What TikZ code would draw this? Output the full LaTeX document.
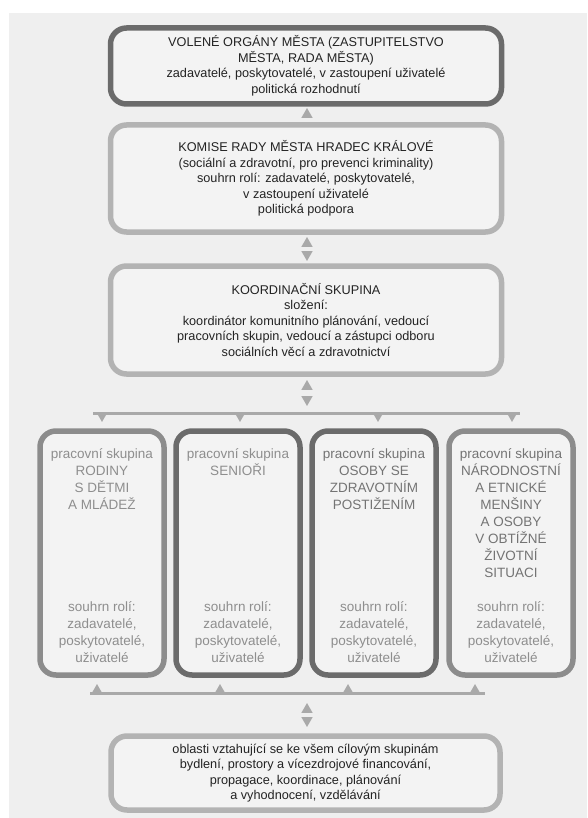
\documentclass[tikz,border=0pt]{standalone}
\usepackage{fontspec}
\setmainfont{Liberation Sans}
\usetikzlibrary{shapes.geometric}

\definecolor{bggray}{HTML}{EFEFEF}
\definecolor{boxfill}{HTML}{F3F3F3}
\definecolor{darkline}{HTML}{6B6B6B}
\definecolor{midline}{HTML}{8C8C8C}
\definecolor{lightline}{HTML}{B3B3B3}
\definecolor{connline}{HTML}{A9A9A9}
\definecolor{darktext}{HTML}{232323}
\definecolor{lowtext}{HTML}{8E8E8E}
\definecolor{midtext}{HTML}{747474}

\tikzset{
  box/.style={draw, rounded corners=16pt, line width=5.5pt, fill=boxfill,
    align=center, inner sep=0pt, text=darktext,
    font=\fontsize{12.7}{15.5}\selectfont},
  groupbox/.style={draw, rounded corners=16pt, line width=5.5pt, fill=boxfill,
    minimum width=124pt, minimum height=244pt},
  grouptext/.style={align=center, inner sep=0pt, text=lowtext,
    font=\fontsize{13.5}{17}\selectfont},
  tri/.style={fill=connline, regular polygon, regular polygon sides=3,
    minimum size=13pt, inner sep=0pt},
  triup/.style={tri, anchor=south},
  tridown/.style={tri, shape border rotate=180, anchor=north},
  conn/.style={draw=connline, line width=3pt}
}

\begin{document}
\begin{tikzpicture}[x=1pt, y=-1pt]

  \useasboundingbox (0,0) rectangle (587,818);
  \fill[bggray] (9,13) rectangle (587,818);

  % upper boxes
  \node[box, draw=darkline, minimum width=391pt, minimum height=76pt] (volene) at (306,66)
    {VOLENÉ ORGÁNY MĚSTA (ZASTUPITELSTVO\\ MĚSTA, RADA MĚSTA)\\
     zadavatelé, poskytovatelé, v zastoupení uživatelé\\ politická rozhodnutí};
  \node[box, draw=lightline, minimum width=391pt, minimum height=107pt] (komise) at (306,178.5)
    {KOMISE RADY MĚSTA HRADEC KRÁLOVÉ\\
     (sociální a zdravotní, pro prevenci kriminality)\\
     souhrn rolí: zadavatelé, poskytovatelé,\\ v zastoupení uživatelé\\ politická podpora};
  \node[box, draw=lightline, minimum width=391pt, minimum height=108pt] (koord) at (306,320)
    {KOORDINAČNÍ SKUPINA\\ složení:\\
     koordinátor komunitního plánování, vedoucí\\
     pracovních skupin, vedoucí a zástupci odboru\\
     sociálních věcí a zdravotnictví};

  % working groups
  \node[groupbox, draw=midline]  (rodiny)   at (102,553) {};
  \node[groupbox, draw=darkline] (seniori)  at (238,553) {};
  \node[groupbox, draw=darkline] (postizeni) at (374,553) {};
  \node[groupbox, draw=midline]  (mensiny)  at (511,553) {};

  \node[grouptext, anchor=north] (rodinyT) at ([yshift=-20pt]rodiny.north)
    {pracovní skupina\\ RODINY\\ S DĚTMI\\ A MLÁDEŽ};
  \node[grouptext, anchor=north] (senioriT) at ([yshift=-20pt]seniori.north)
    {pracovní skupina\\ SENIOŘI};
  \node[grouptext, anchor=north, text=midtext] (postizeniT) at ([yshift=-20pt]postizeni.north)
    {pracovní skupina\\ OSOBY SE\\ ZDRAVOTNÍM\\ POSTIŽENÍM};
  \node[grouptext, anchor=north, text=midtext] (mensinyT) at ([yshift=-20pt]mensiny.north)
    {pracovní skupina\\ NÁRODNOSTNÍ\\ A ETNICKÉ\\ MENŠINY\\ A OSOBY\\ V OBTÍŽNÉ\\ ŽIVOTNÍ\\ SITUACI};

  \foreach \g in {rodiny, seniori, postizeni, mensiny}
    \node[grouptext, anchor=south] (\g R) at ([yshift=15pt]\g.south)
      {souhrn rolí:\\ zadavatelé,\\ poskytovatelé,\\ uživatelé};

  % bottom box
  \node[box, draw=lightline, minimum width=389pt, minimum height=74pt] (oblasti) at (305.5,773)
    {oblasti vztahující se ke všem cílovým skupinám\\
     bydlení, prostory a vícezdrojové financování,\\
     propagace, koordinace, plánování\\ a vyhodnocení, vzdělávání};

  % triangles between the upper boxes
  \node[triup] (t1) at (307,118) {};
  \node[triup] (t2) at (307,247) {};
  \node[tridown] (t3) at (307,251) {};
  \node[triup] (t4) at (307,390) {};
  \node[tridown] (t5) at (307,396) {};

  % distribution to the working groups
  \coordinate (dl) at (93,413);
  \coordinate (dr) at (520,413);
  \path[conn] (dl) -- (dr);
  \foreach \x/\n in {102/1, 240/2, 378/3, 512/4}
    \node[tridown] (d\n) at (\x,412) {};

  % collection from the working groups
  \coordinate (cl) at (90,693);
  \coordinate (cr) at (485,693);
  \path[conn] (cl) -- (cr);
  \foreach \x/\n in {97/1, 220/2, 348/3, 475/4}
    \node[triup] (c\n) at (\x,694) {};

  \node[triup] (t6) at (307,713) {};
  \node[tridown] (t7) at (307,717) {};

\end{tikzpicture}
\end{document}
